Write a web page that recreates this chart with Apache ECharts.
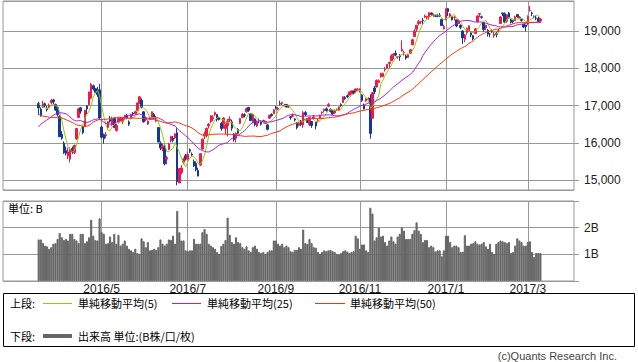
<!DOCTYPE html>
<html><head><meta charset="utf-8">
<script src="https://cdn.jsdelivr.net/npm/echarts@6/dist/echarts.min.js"></script>
<style>html,body{margin:0;padding:0;background:#fff}#c{width:638px;height:362px}</style>
</head><body><div id="c"></div>
<script>
const dates = [
'2016/3/17','2016/3/18','2016/3/22','2016/3/23','2016/3/24','2016/3/25','2016/3/28','2016/3/29','2016/3/30','2016/3/31',
'2016/4/1','2016/4/4','2016/4/5','2016/4/6','2016/4/7','2016/4/8','2016/4/11','2016/4/12','2016/4/13','2016/4/14','2016/4/15','2016/4/18','2016/4/19','2016/4/20','2016/4/21','2016/4/22','2016/4/25','2016/4/26','2016/4/27','2016/4/28',
'2016/5/2','2016/5/6','2016/5/9','2016/5/10','2016/5/11','2016/5/12','2016/5/13','2016/5/16','2016/5/17','2016/5/18','2016/5/19','2016/5/20','2016/5/23','2016/5/24','2016/5/25','2016/5/26','2016/5/27','2016/5/30','2016/5/31',
'2016/6/1','2016/6/2','2016/6/3','2016/6/6','2016/6/7','2016/6/8','2016/6/9','2016/6/10','2016/6/13','2016/6/14','2016/6/15','2016/6/16','2016/6/17','2016/6/20','2016/6/21','2016/6/22','2016/6/23','2016/6/24','2016/6/27','2016/6/28','2016/6/29','2016/6/30',
'2016/7/1','2016/7/4','2016/7/5','2016/7/6','2016/7/7','2016/7/8','2016/7/11','2016/7/12','2016/7/13','2016/7/14','2016/7/15','2016/7/19','2016/7/20','2016/7/21','2016/7/22','2016/7/25','2016/7/26','2016/7/27','2016/7/28','2016/7/29',
'2016/8/1','2016/8/2','2016/8/3','2016/8/4','2016/8/5','2016/8/8','2016/8/9','2016/8/10','2016/8/12','2016/8/15','2016/8/16','2016/8/17','2016/8/18','2016/8/19','2016/8/22','2016/8/23','2016/8/24','2016/8/25','2016/8/26','2016/8/29','2016/8/30','2016/8/31',
'2016/9/1','2016/9/2','2016/9/5','2016/9/6','2016/9/7','2016/9/8','2016/9/9','2016/9/12','2016/9/13','2016/9/14','2016/9/15','2016/9/16','2016/9/20','2016/9/21','2016/9/23','2016/9/26','2016/9/27','2016/9/28','2016/9/29','2016/9/30',
'2016/10/3','2016/10/4','2016/10/5','2016/10/6','2016/10/7','2016/10/11','2016/10/12','2016/10/13','2016/10/14','2016/10/17','2016/10/18','2016/10/19','2016/10/20','2016/10/21','2016/10/24','2016/10/25','2016/10/26','2016/10/27','2016/10/28','2016/10/31',
'2016/11/1','2016/11/2','2016/11/4','2016/11/7','2016/11/8','2016/11/9','2016/11/10','2016/11/11','2016/11/14','2016/11/15','2016/11/16','2016/11/17','2016/11/18','2016/11/21','2016/11/22','2016/11/24','2016/11/25','2016/11/28','2016/11/29','2016/11/30',
'2016/12/1','2016/12/2','2016/12/5','2016/12/6','2016/12/7','2016/12/8','2016/12/9','2016/12/12','2016/12/13','2016/12/14','2016/12/15','2016/12/16','2016/12/19','2016/12/20','2016/12/21','2016/12/22','2016/12/26','2016/12/27','2016/12/28','2016/12/29','2016/12/30',
'2017/1/4','2017/1/5','2017/1/6','2017/1/10','2017/1/11','2017/1/12','2017/1/13','2017/1/16','2017/1/17','2017/1/18','2017/1/19','2017/1/20','2017/1/23','2017/1/24','2017/1/25','2017/1/26','2017/1/27','2017/1/30','2017/1/31',
'2017/2/1','2017/2/2','2017/2/3','2017/2/6','2017/2/7','2017/2/8','2017/2/9','2017/2/10','2017/2/13','2017/2/14','2017/2/15','2017/2/16','2017/2/17','2017/2/20','2017/2/21','2017/2/22','2017/2/23','2017/2/24','2017/2/27','2017/2/28',
'2017/3/1','2017/3/2','2017/3/3','2017/3/6','2017/3/7','2017/3/8','2017/3/9'
];
const open = [
17050,16900,16950,17050,16930,16950,17080,17150,17030,16950,
16700,16230,15990,15790,15640,15560,15850,15740,16100,16680,16940,16430,16440,16990,17020,17200,17530,17450,17400,17420,
16420,16220,16190,16410,16620,16480,16660,16330,16550,16590,16570,16670,16720,16560,16650,16800,16780,16870,17060,
17140,16830,16620,16500,16650,16680,16760,16580,16410,15980,15830,15860,15560,15820,16050,16130,16130,16270,14920,15200,15480,15650,
15560,15810,15690,15500,15450,15260,15400,15830,16180,16190,16450,16570,16640,16760,16760,16680,16520,16510,16380,16460,
16600,16560,16230,16120,16360,16520,16680,16750,16830,16950,16780,16540,16640,16450,16600,16550,16560,16520,16480,16660,16760,16780,
16940,16900,17050,17050,17010,17030,16960,16700,16710,16640,16520,16470,16570,16480,16810,16650,16490,16570,16670,16550,
16580,16650,16800,16860,16910,16980,16900,16860,16800,16890,16870,17030,17080,17220,17260,17280,17320,17390,17390,17410,
17400,17280,17000,17120,17160,17200,16660,17470,17500,17620,17770,17780,17960,18000,18130,18200,18350,18400,18300,18340,
18470,18420,18330,18290,18400,18630,18850,19050,19200,19240,19290,19370,19360,19390,19480,19420,19400,19410,19410,19310,19060,
19300,19600,19400,19390,19360,19300,19200,19150,19000,18780,18960,19000,18960,18870,18930,19250,19450,19380,19230,
19080,19020,18920,19000,18870,18940,18990,19200,19480,19460,19260,19480,19300,19280,19280,19440,19350,19320,19180,19160,
19200,19550,19480,19380,19350,19340,19270
];
const high = [
17100,16950,17130,17080,16990,17050,17180,17180,17050,16990,
16740,16310,16040,15900,15870,15880,15900,15950,16400,16930,16950,16440,16880,17010,17370,17600,17560,17460,17500,17580,
16450,16250,16290,16580,16720,16700,16680,16510,16680,16690,16670,16750,16770,16600,16780,16820,16860,17080,17250,
17190,16850,16700,16600,16720,16840,16800,16720,16420,16040,15980,15960,15650,16000,16190,16180,16260,16390,15320,15400,15600,15700,
15740,15850,15740,15550,15500,15330,15720,16120,16300,16410,16530,16740,16740,16840,16770,16700,16560,16690,16520,16640,
16710,16620,16260,16280,16390,16660,16800,16790,16940,16960,16800,16780,16660,16600,16650,16600,16620,16590,16500,16750,16790,16890,
16990,16960,17130,17100,17040,17040,17020,16720,16790,16660,16550,16540,16610,16850,16850,16660,16700,16580,16750,16560,
16640,16750,16840,16920,16950,17070,16920,16880,16900,16920,16970,17060,17240,17250,17300,17380,17400,17400,17450,17470,
17460,17300,17050,17200,17220,17300,17350,17520,17700,17700,17880,17880,18030,18110,18170,18380,18400,18480,18330,18380,
18750,18470,18380,18390,18520,18790,19050,19160,19300,19270,19350,19440,19410,19500,19500,19470,19440,19460,19480,19330,19170,
19600,19620,19480,19410,19400,19300,19300,19180,19020,18920,19090,19150,19000,18890,19080,19420,19480,19410,19240,
19170,19050,18950,19040,18990,18970,19050,19400,19500,19500,19450,19510,19330,19300,19410,19450,19400,19330,19190,19160,
19420,19670,19520,19420,19410,19380,19350
];
const low = [
16750,16700,16930,16960,16840,16920,17030,17040,16860,16700,
16150,16080,15700,15660,15560,15470,15700,15690,16080,16660,16780,16230,16420,16770,17000,17170,17400,17330,17230,16640,
16110,15980,16120,16380,16540,16450,16390,16300,16520,16580,16500,16620,16630,16450,16630,16720,16760,16850,17040,
16920,16540,16580,16480,16640,16650,16640,16550,16010,15800,15770,15390,15420,15800,16010,16010,16100,14860,14920,15150,15420,15520,
15530,15720,15630,15350,15230,15100,15380,15820,16100,16140,16380,16520,16580,16710,16570,16600,16320,16380,16230,16170,
16550,16320,16030,16010,16220,16500,16660,16680,16810,16830,16580,16520,16440,16420,16520,16460,16520,16500,16330,16640,16700,16770,
16890,16870,17000,17010,16970,16950,16940,16620,16680,16570,16360,16440,16450,16400,16720,16530,16450,16400,16620,16360,
16540,16640,16760,16810,16840,16960,16810,16750,16780,16850,16860,16960,17070,17150,17200,17270,17300,17300,17330,17400,
17350,17100,16900,17100,17130,16111,16650,17300,17480,17610,17750,17770,17910,17990,17990,18200,18240,18320,18250,18200,
18450,18340,18230,18280,18390,18620,18840,18970,19150,19180,19170,19350,19320,19300,19410,19380,19370,19370,19380,19130,19040,
19290,19400,19350,19280,19280,19100,19190,19050,18650,18700,18900,18990,18830,18750,18920,19230,19370,19330,18980,
19020,18850,18830,18950,18820,18830,18960,19190,19400,19220,19220,19340,19200,19200,19270,19360,19330,19250,19080,18990,
19150,19520,19400,19340,19290,19240,19220
];
const close = [
16936,16724,17048,17000,16892,17002,17134,17103,16878,16758,
16164,16123,15732,15715,15749,15821,15751,15928,16381,16911,16848,16275,16874,16906,17363,17572,17440,17353,17290,16666,
16147,16106,16216,16565,16579,16646,16412,16466,16652,16644,16646,16736,16654,16498,16757,16772,16834,17068,17234,
16955,16562,16642,16580,16675,16830,16668,16601,16019,15859,15919,15434,15599,15965,16169,16065,16238,14952,15309,15323,15566,15575,
15682,15775,15669,15378,15276,15106,15708,16095,16231,16385,16497,16723,16681,16810,16627,16620,16383,16664,16476,16569,
16635,16391,16083,16254,16254,16650,16764,16735,16919,16869,16596,16745,16486,16545,16598,16497,16597,16555,16360,16737,16725,16887,
16926,16925,17037,17081,17012,16958,16965,16672,16729,16614,16405,16519,16492,16807,16754,16544,16683,16465,16693,16449,
16598,16735,16819,16899,16860,17024,16840,16774,16856,16900,16963,16998,17235,17184,17234,17365,17391,17336,17446,17425,
17442,17134,16905,17177,17171,16251,17344,17374,17672,17668,17862,17862,17967,18106,18162,18333,18381,18356,18307,18308,
18513,18426,18274,18360,18496,18765,18996,19155,19250,19253,19273,19401,19391,19494,19444,19427,19396,19403,19401,19145,19114,
19594,19520,19454,19301,19364,19134,19287,19095,18813,18894,19072,19137,18891,18787,19057,19402,19467,19368,19041,
19148,18914,18918,18976,18910,18907,19007,19378,19459,19238,19437,19347,19234,19251,19381,19379,19371,19283,19107,19118,
19393,19564,19469,19379,19344,19254,19318
];
// closes before the first shown day, used only to warm up the moving averages
const priorCloses = [
18374,18191,17767,17698,17219,17716,17241,17147,16956,17048,16416,16017,16958,17111,16708,17164,17041,17518,
17865,17750,17191,17044,16820,17004,16085,15713,14952,16022,16054,15837,16196,15967,16111,16052,15915,16140,16188,16027,
16085,16747,16960,17015,16911,16784,16642,16852,16939,17233,17117,16974
];
const volume = [
1.56,1.56,1.43,1.33,1.30,1.21,1.27,1.40,1.42,1.58,
1.80,1.64,1.54,1.58,1.52,1.77,1.77,1.58,1.52,1.42,1.77,1.77,1.42,1.49,1.64,2.30,1.70,1.54,1.52,2.35,
1.83,1.77,1.40,1.42,1.67,1.46,1.77,1.40,1.73,1.33,1.40,1.52,1.33,1.21,1.15,1.09,1.21,1.05,1.02,
1.60,1.49,1.27,1.46,1.15,1.17,1.21,1.17,1.27,1.56,1.40,1.33,1.40,1.56,1.54,1.70,1.40,2.63,1.83,1.52,1.52,1.15,
1.12,1.15,1.15,1.58,1.40,1.40,1.40,1.83,1.95,1.77,1.40,1.33,1.27,1.21,1.09,1.02,1.31,1.40,1.54,2.38,
1.73,1.46,1.40,1.64,1.46,1.42,1.27,1.21,1.30,1.15,1.09,1.27,1.33,1.21,1.09,1.05,1.09,1.02,1.09,1.15,1.15,1.52,
1.52,1.40,1.33,1.40,1.27,1.33,1.27,1.12,1.09,1.17,1.17,1.27,1.21,1.93,1.42,1.40,1.58,1.42,1.27,1.25,
1.09,1.02,1.09,1.15,1.12,1.15,1.17,1.12,1.09,1.02,1.00,1.05,1.12,1.15,1.11,1.05,1.09,1.12,1.70,1.60,
1.21,1.37,1.37,1.15,1.09,2.75,2.53,1.52,1.64,2.01,1.67,1.70,1.46,1.33,1.52,1.67,1.49,1.40,1.67,1.77,
2.01,1.89,1.58,1.58,1.58,1.77,1.91,2.20,1.89,1.77,1.46,1.54,1.54,1.27,1.33,1.27,1.11,1.15,1.15,0.93,1.15,
1.70,1.70,1.46,1.27,1.33,1.33,1.27,1.09,1.10,1.72,1.33,1.33,1.40,1.42,1.49,1.40,1.37,1.40,1.46,
1.30,1.21,1.40,1.09,1.02,1.40,1.46,1.52,1.49,1.46,1.42,1.46,1.05,1.09,1.33,1.60,1.52,1.46,1.33,1.33,
1.46,1.49,1.09,0.90,1.05,1.05,1.05
];
const maPeriods = [5, 25, 50];
const maNames = ['単純移動平均(5)', '単純移動平均(25)', '単純移動平均(50)'];
const maColors = ['#99c700', '#a020f0', '#ff3300'];
const volumeTickLabels = [1, 2];

const PAD_L = 17, PAD_R = 16;
const cats = [];
for (let i = 0; i < PAD_L; i++) cats.push('L' + i);
dates.forEach(d => cats.push(d));
for (let i = 0; i < PAD_R; i++) cats.push('R' + i);

const markIdx = new Set();
for (let i = 1; i < dates.length; i++) {
  const m = dates[i].split('/')[1], pm = dates[i - 1].split('/')[1];
  if (m !== pm && (+m) % 2 === 1) markIdx.add(i + PAD_L);
}

const allClose = priorCloses.concat(close);
function movingAvg(n) {
  return close.map((_, i) => {
    const end = priorCloses.length + i;
    let s = 0;
    for (let k = end - n + 1; k <= end; k++) s += allClose[k];
    return [i + PAD_L, +(s / n).toFixed(1)];
  });
}

const FONT_L = '"Liberation Sans", Arial, sans-serif';
const FONT_J = '"Noto Sans CJK JP", sans-serif';

const chart = echarts.init(document.getElementById('c'), null, { renderer: 'svg' });
const xBase = {
  type: 'category', data: cats, boundaryGap: false,
  axisLine: { show: false }, axisTick: { show: false },
  splitLine: { show: true, interval: (idx) => markIdx.has(idx), lineStyle: { color: '#999', width: 1 } }
};
const series = [{
  type: 'candlestick', xAxisIndex: 0, yAxisIndex: 0,
  data: dates.map((d, i) => [i + PAD_L, open[i], close[i], low[i], high[i]]),
  encode: { x: 0, y: [1, 2, 3, 4] },
  barWidth: 2,
  itemStyle: { color: '#f2184a', color0: '#12399a', borderColor: '#f2184a', borderColor0: '#12399a', borderWidth: 1 },
  z: 2
}];
maPeriods.forEach((p, k) => series.push({
  type: 'line', name: maNames[k], xAxisIndex: 0, yAxisIndex: 0,
  data: movingAvg(p), showSymbol: false, symbol: 'none',
  lineStyle: { color: maColors[k], width: 1 }, z: 3 + k
}));
series.push({
  type: 'bar', xAxisIndex: 1, yAxisIndex: 1,
  data: volume.map((v, i) => [i + PAD_L, v]),
  barCategoryGap: '0%',
  itemStyle: { color: '#666666', borderColor: '#666666', borderWidth: 1 }
});

const lg = [];
const rowY1 = 303, rowY2 = 336;
lg.push({ type: 'rect', shape: { x: 3.5, y: 293.5, width: 631, height: 53 }, style: { fill: 'none', stroke: '#000', lineWidth: 1 } });
lg.push({ type: 'text', x: 10, y: rowY1, style: { text: '上段:', font: '11px ' + FONT_J, fill: '#000', verticalAlign: 'middle', textVerticalAlign: 'middle' } });
const lx = [[43, 72, 78], [172, 201, 207], [315, 345, 350]];
lx.forEach((p, k) => {
  lg.push({ type: 'line', shape: { x1: p[0], y1: rowY1 + 0.5, x2: p[1], y2: rowY1 + 0.5 }, style: { stroke: maColors[k], lineWidth: 1 } });
  lg.push({ type: 'text', x: p[2], y: rowY1, style: { text: maNames[k], font: '11px ' + FONT_J, fill: '#000', verticalAlign: 'middle', textVerticalAlign: 'middle' } });
});
lg.push({ type: 'text', x: 10, y: rowY2, style: { text: '下段:', font: '11px ' + FONT_J, fill: '#000', verticalAlign: 'middle', textVerticalAlign: 'middle' } });
lg.push({ type: 'line', shape: { x1: 43, y1: rowY2, x2: 72, y2: rowY2 }, style: { stroke: '#666', lineWidth: 4 } });
lg.push({ type: 'text', x: 78, y: rowY2, style: { text: '出来高 単位:(B株/口/枚)', font: '11px ' + FONT_J, fill: '#000', verticalAlign: 'middle', textVerticalAlign: 'middle' } });
lg.push({ type: 'text', x: 617, y: 356, style: { text: '(c)Quants Research Inc.', font: '11px ' + FONT_L, fill: '#444', align: 'right', textAlign: 'right', verticalAlign: 'middle', textVerticalAlign: 'middle' } });
lg.push({ type: 'text', x: 8, y: 208, style: { text: '単位: B', font: '11px ' + FONT_J, fill: '#000', verticalAlign: 'middle', textVerticalAlign: 'middle' } });

chart.setOption({
  animation: false,
  backgroundColor: '#fff',
  grid: [
    { left: 3, top: 1, width: 571, height: 189, show: true, borderColor: '#999', borderWidth: 1 },
    { left: 3, top: 201, width: 571, height: 80, show: true, borderColor: '#999', borderWidth: 1 }
  ],
  xAxis: [
    Object.assign({}, xBase, { gridIndex: 0, axisLabel: { show: false } }),
    Object.assign({}, xBase, { gridIndex: 1, axisLabel: {
      show: true, interval: (idx) => markIdx.has(idx), margin: 2,
      formatter: (v) => v.split('/').slice(0, 2).join('/'),
      fontFamily: FONT_L, fontSize: 12, color: '#222' } })
  ],
  yAxis: [
    { type: 'value', gridIndex: 0, position: 'right', min: 14732, max: 19805, scale: true,
      axisLine: { show: false },
      axisTick: { show: true, length: 5, lineStyle: { color: '#999' } },
      axisLabel: { margin: 10, fontFamily: FONT_L, fontSize: 12, color: '#222', showMinLabel: false, showMaxLabel: false,
        formatter: (v) => v.toLocaleString('en-US') },
      splitLine: { show: true, lineStyle: { color: '#999', width: 1 } } },
    { type: 'value', gridIndex: 1, position: 'right', min: 0, max: 3, interval: 1,
      axisLine: { show: false },
      axisTick: { show: true, length: 5, lineStyle: { color: '#999' } },
      axisLabel: { margin: 10, fontFamily: FONT_L, fontSize: 12, color: '#222',
        formatter: (v) => volumeTickLabels.includes(v) ? v + 'B' : '' },
      splitLine: { show: true, lineStyle: { color: '#999', width: 1 } } }
  ],
  series: series,
  graphic: lg
});
</script></body></html>
